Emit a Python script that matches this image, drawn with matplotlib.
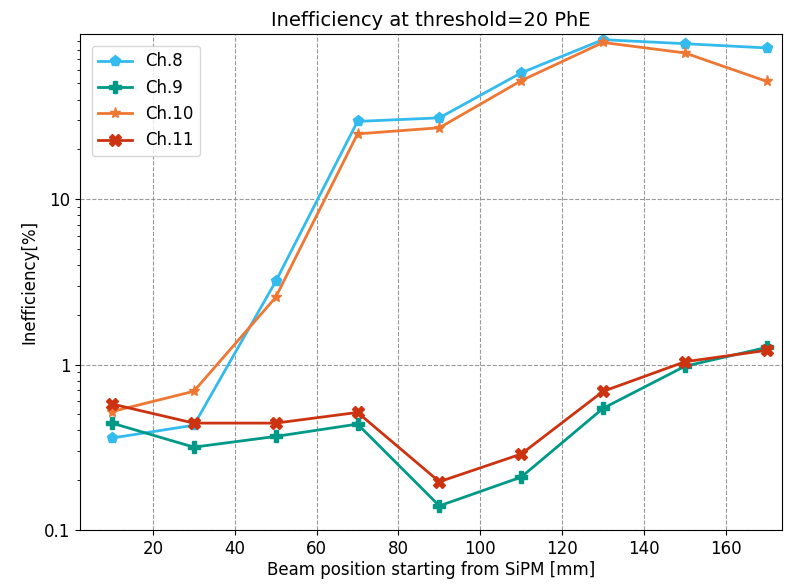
import matplotlib.pyplot as plt
from matplotlib.ticker import FuncFormatter

pos = [10, 30, 50, 70, 90, 110, 130, 150, 170]
ch8 = [0.36, 0.43, 3.18, 29.5, 31.0, 58.0, 92.0, 87.0, 82.0]
ch9 = [0.443, 0.317, 0.368, 0.437, 0.140, 0.209, 0.544, 0.977, 1.27]
ch10 = [0.52, 0.69, 2.55, 24.8, 27.0, 52.0, 88.5, 76.5, 51.5]
ch11 = [0.578, 0.443, 0.443, 0.514, 0.196, 0.288, 0.689, 1.04, 1.22]

fig = plt.figure(figsize=(7.85, 5.87), dpi=100)
ax = fig.add_axes([0.102, 0.097, 0.894, 0.845])

ax.plot(pos, ch8, marker='p', color='#33bbee', lw=2, ms=8, label='Ch.8')
ax.plot(pos, ch9, marker='P', color='#009988', lw=2, ms=8, label='Ch.9')
ax.plot(pos, ch10, marker='*', color='#ee7733', lw=2, ms=8, label='Ch.10')
ax.plot(pos, ch11, marker='X', color='#cc3311', lw=2, ms=8, label='Ch.11')

ax.set_yscale('log')
ax.set_ylim(0.1, 99.5)
ax.set_xlim(2.2, 173.7)
ax.yaxis.set_major_formatter(FuncFormatter(lambda v, p: '%g' % v))
ax.grid(True, which='major', linestyle='--', color='grey', alpha=0.8)

ax.tick_params(labelsize=12)
ax.set_xlabel('Beam position starting from SiPM [mm]', fontsize=12, labelpad=2)
ax.set_ylabel('Inefficiency[%]', fontsize=12)
ax.set_title('Inefficiency at threshold=20 PhE', fontsize=14)
ax.legend(loc='upper left', fontsize=12, borderaxespad=0.7)

fig.savefig('out.png')
